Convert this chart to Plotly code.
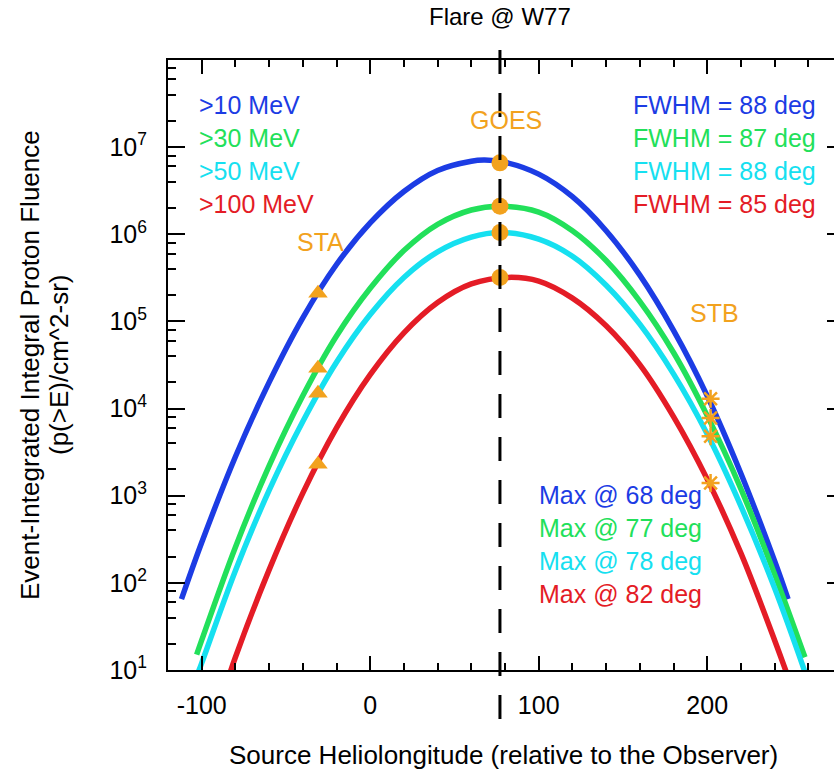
import plotly.graph_objects as go

# ---------------- data ----------------
blue_x = [-112, -100, -80, -60, -40, -20, 0, 20, 40, 60, 68, 80, 100, 120, 140, 160, 180, 200, 220, 240, 248]
blue_y = [65, 290, 2.8e3, 2.0e4, 1.1e5, 4.5e5, 1.35e6, 3.1e6, 5.4e6, 6.9e6, 7.1e6, 6.7e6, 4.9e6, 2.7e6,
          1.1e6, 3.4e5, 7.9e4, 1.4e4, 1.8e3, 178, 65]

green_x = [-103, -100, -80, -60, -40, -20, 0, 20, 40, 60, 77, 100, 120, 140, 160, 180, 200, 220, 240, 258]
green_y = [15, 22, 257, 2.2e3, 1.4e4, 6.8e4, 2.4e5, 6.5e5, 1.3e6, 1.9e6, 2.1e6, 1.8e6, 1.1e6, 5.0e5,
           1.7e5, 4.4e4, 8.3e3, 1.2e3, 126, 14]

cyan_x = [-102, -100, -80, -60, -40, -20, 0, 20, 40, 60, 78, 100, 120, 140, 160, 180, 200, 220, 240, 258]
cyan_y = [9.5, 12, 138, 1.15e3, 7.1e3, 3.4e4, 1.2e5, 3.2e5, 6.3e5, 9.3e5, 1.05e6, 8.8e5, 5.6e5, 2.6e5,
          9.3e4, 2.5e4, 5.1e3, 760, 87, 9.5]

red_x = [-84, -80, -60, -40, -20, 0, 20, 40, 60, 82, 100, 120, 140, 160, 180, 200, 220, 240, 248]
red_y = [8.3, 14, 141, 1.07e3, 6.0e3, 2.45e4, 7.4e4, 1.65e5, 2.7e5, 3.2e5, 2.9e5, 1.85e5, 8.9e4, 3.2e4,
         8.1e3, 1.55e3, 219, 22, 8.3]

sta_x = [-31, -31, -31, -31]
sta_y = [2.1e5, 2.9e4, 1.5e4, 2.3e3]
goes_x = [77, 77, 77, 77]
goes_y = [6.6e6, 2.1e6, 1.05e6, 3.2e5]
stb_x = [202, 202, 202, 202]
stb_y = [1.3e4, 7.8e3, 4.8e3, 1.4e3]

energy_labels = [">10 MeV", ">30 MeV", ">50 MeV", ">100 MeV"]
fwhm_labels = ["FWHM = 88 deg", "FWHM = 87 deg", "FWHM = 88 deg", "FWHM = 85 deg"]
max_labels = ["Max @ 68 deg", "Max @ 77 deg", "Max @ 78 deg", "Max @ 82 deg"]

x_ticks = [-100, 0, 100, 200]
x_ticktext = ["-100", "0", "100", "200"]
y_ticks = [1e1, 1e2, 1e3, 1e4, 1e5, 1e6, 1e7]
y_ticktext = ["10<sup>%d</sup>" % i for i in range(1, 8)]
y_minor = [m * 10 ** e for e in range(1, 8) for m in (2, 4, 6, 8)]

flare_lon = 77

# ---------------- style ----------------
BLUE = "#1C3CE4"
GREEN = "#22E05A"
CYAN = "#16E0F0"
RED = "#E41C26"
ORANGE = "#F2A21E"
colors = [BLUE, GREEN, CYAN, RED]
FONT = "Liberation Sans, Arial, sans-serif"
FS = 25

W, H = 834, 777
L, R, T, B = 168, 0, 60, 107
PW, PH = W - L - R, H - T - B


def px(xp):
    return (xp - L) / PW


def py(yp):
    return (H - B - yp) / PH


fig = go.Figure()
for xs, ys, c in [(blue_x, blue_y, BLUE), (green_x, green_y, GREEN),
                  (cyan_x, cyan_y, CYAN), (red_x, red_y, RED)]:
    fig.add_trace(go.Scatter(x=xs, y=ys, mode="lines", line=dict(color=c, width=5.5, shape="spline"),
                             hoverinfo="skip"))

fig.add_trace(go.Scatter(x=sta_x, y=sta_y, mode="markers",
                         marker=dict(symbol="triangle-up", size=17, color=ORANGE)))
fig.add_trace(go.Scatter(x=goes_x, y=goes_y, mode="markers",
                         marker=dict(symbol="circle", size=17, color=ORANGE)))
fig.add_trace(go.Scatter(x=stb_x, y=stb_y, mode="markers",
                         marker=dict(symbol="asterisk-open", size=15, color=ORANGE,
                                     line=dict(color=ORANGE, width=2.5))))
# helper trace for the right-hand tick axis
fig.add_trace(go.Scatter(x=[0], y=[100], yaxis="y2", mode="markers",
                         marker=dict(opacity=0), hoverinfo="skip"))

fig.add_shape(type="line", xref="x", yref="paper", x0=flare_lon, x1=flare_lon,
              y0=py(50), y1=py(720), line=dict(color="black", width=3, dash="24px,19px"),
              layer="above")

annotations = []
ys_left = [105, 138, 171, 204]
for lab, c, yp in zip(energy_labels, colors, ys_left):
    annotations.append(dict(text=lab, xref="paper", yref="paper", x=px(197), y=py(yp),
                            xanchor="left", yanchor="middle", showarrow=False,
                            font=dict(color=c, size=FS, family=FONT)))
for lab, c, yp in zip(fwhm_labels, colors, ys_left):
    annotations.append(dict(text=lab, xref="paper", yref="paper", x=px(818), y=py(yp),
                            xanchor="right", yanchor="middle", showarrow=False,
                            font=dict(color=c, size=FS, family=FONT)))
for lab, c, yp in zip(max_labels, colors, [495, 528, 561, 594]):
    annotations.append(dict(text=lab, xref="paper", yref="paper", x=px(537), y=py(yp),
                            xanchor="left", yanchor="middle", showarrow=False,
                            font=dict(color=c, size=FS, family=FONT)))
for lab, xp, yp in [("GOES", 506, 120), ("STA", 320, 242), ("STB", 714, 313)]:
    annotations.append(dict(text=lab, xref="paper", yref="paper", x=px(xp), y=py(yp),
                            xanchor="center", yanchor="middle", showarrow=False,
                            font=dict(color=ORANGE, size=FS, family=FONT)))
annotations.append(dict(text="Flare @ W77", xref="x", yref="paper", x=flare_lon, y=py(16),
                        xanchor="center", yanchor="middle", showarrow=False,
                        font=dict(color="black", size=24, family=FONT)))
annotations.append(dict(text="Source Heliolongitude (relative to the Observer)", xref="paper",
                        yref="paper", x=px(503), y=py(755), xanchor="center", yanchor="middle",
                        showarrow=False, font=dict(color="black", size=26, family=FONT)))
annotations.append(dict(text="Event-Integrated Integral Proton Fluence", xref="paper",
                        yref="paper", x=px(30), y=py(365), xanchor="center", yanchor="middle",
                        textangle=-90, showarrow=False,
                        font=dict(color="black", size=26, family=FONT)))
annotations.append(dict(text="(p(>E)/cm^2-sr)", xref="paper",
                        yref="paper", x=px(59), y=py(365), xanchor="center", yanchor="middle",
                        textangle=-90, showarrow=False,
                        font=dict(color="black", size=26, family=FONT)))

fig.update_layout(
    width=W, height=H,
    margin=dict(l=L, r=R, t=T, b=B, pad=0),
    paper_bgcolor="white", plot_bgcolor="white",
    showlegend=False,
    font=dict(family=FONT, size=FS, color="black"),
    annotations=annotations,
    xaxis=dict(range=[-120, -120 + PW / 1.685], showgrid=False, zeroline=False,
               showline=True, linecolor="black", linewidth=2, mirror="ticks",
               ticks="inside", ticklen=14, tickwidth=2, tickcolor="black",
               tickmode="array", tickvals=x_ticks, ticktext=x_ticktext,
               ticklabelstandoff=12,
               minor=dict(tickmode="linear", tick0=0, dtick=20, ticks="inside",
                          ticklen=7, tickwidth=2, tickcolor="black"),
               tickfont=dict(size=FS, family=FONT, color="black")),
    yaxis=dict(type="log", range=[1, 8], showgrid=False, zeroline=False,
               showline=True, linecolor="black", linewidth=2,
               ticks="inside", ticklen=17, tickwidth=2, tickcolor="black",
               tickmode="array", tickvals=y_ticks, ticktext=y_ticktext,
               ticklabelstandoff=14,
               minor=dict(tickmode="array", tickvals=y_minor, ticks="inside",
                          ticklen=8, tickwidth=2, tickcolor="black"),
               tickfont=dict(size=FS, family=FONT, color="black")),
    yaxis2=dict(type="log", range=[1, 8], overlaying="y", side="right",
                showgrid=False, zeroline=False, showline=False,
                ticks="inside", ticklen=7, tickwidth=2, tickcolor="black",
                tickmode="array", tickvals=y_ticks, showticklabels=False),
)

fig.write_html("out.html")
